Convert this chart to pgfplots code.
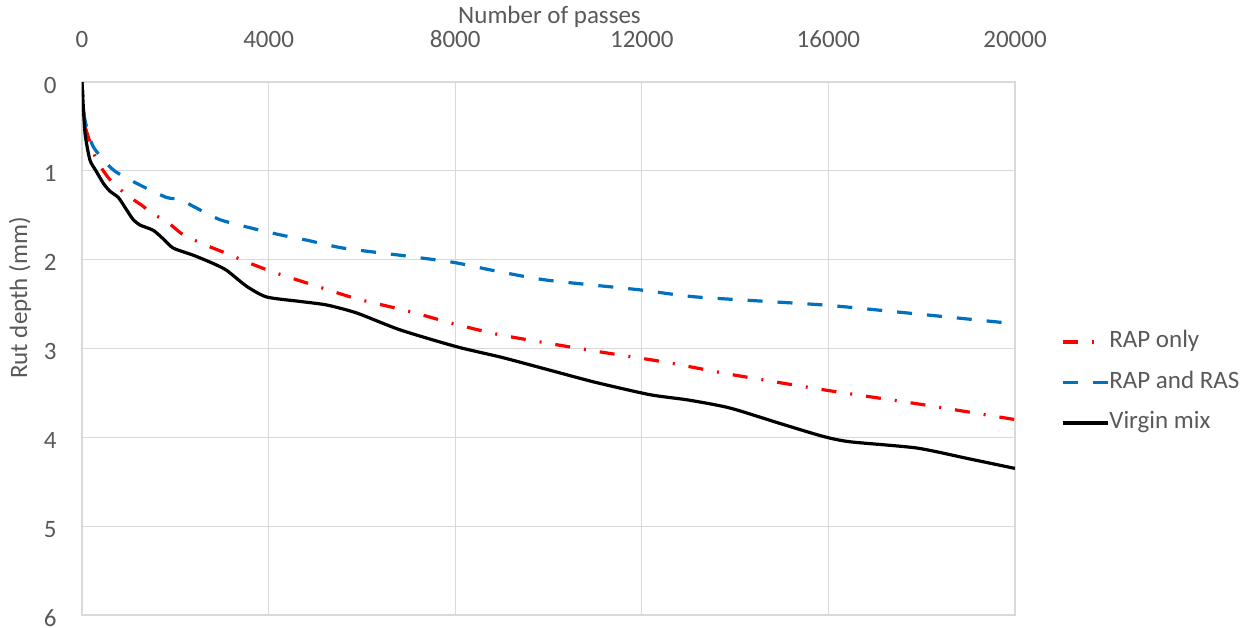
\documentclass[border=0pt]{standalone}
\usepackage{pgfplots}
\pgfplotsset{compat=1.18}
\usepackage{fontspec}
\setmainfont{Carlito}
\definecolor{txt}{HTML}{595959}
\definecolor{grd}{HTML}{D9D9D9}
\definecolor{bl}{HTML}{0070C0}
\begin{document}
\fontsize{25pt}{30pt}\selectfont
\begin{tikzpicture}
\path[use as bounding box] (-82pt,-12pt) rectangle (1173pt,615pt);
\begin{axis}[
  scale only axis, width=933pt, height=533pt,
  xmin=0, xmax=20000, ymin=0, ymax=6,
  y dir=reverse,
  xtick={0,4000,...,20000}, ytick={0,1,...,6},
  scaled x ticks=false,
  xticklabel pos=upper,
  major tick length=0pt,
  grid=major,
  grid style={draw=grd, line width=1.2pt},
  axis line style={draw=grd, line width=1.2pt},
  /pgf/number format/assume math mode=true,
  /pgf/number format/1000 sep={},
  /pgf/number format/fixed,
  ticklabel style={font=\fontsize{25pt}{30pt}\selectfont, text=txt},
  xticklabel style={yshift=26pt},
  yticklabel style={xshift=-17pt, yshift=-3pt},
  legend cell align=left,
  legend style={draw=none, fill=none, at={(axis description cs:1.046,0.539)}, anchor=north west,
    font=\fontsize{25pt}{30pt}\selectfont, text=txt,
    nodes={inner sep=0pt, text height=18pt, text depth=6pt},
    row sep=16.5pt,
    /tikz/every even column/.append style={column sep=5pt}},
  legend image code/.code={\draw[#1] (0pt,0pt) -- (45pt,0pt);},
]
\addplot[red, line width=3.2pt, dash pattern=on 15pt off 14pt on 2pt off 14pt, smooth, tension=0.4] coordinates {
(0,0) (30,0.3) (70,0.5) (136,0.62) (314,0.88) (600,1.10) (957,1.27) (1315,1.40) (1458,1.47) (1815,1.57) (2172,1.72) (2672,1.84) (3100,1.93) (3601,2.04) (4101,2.14) (5102,2.31) (5888,2.44) (7000,2.58) (7960,2.72) (9000,2.85) (10890,3.02) (12461,3.15) (14000,3.30) (15963,3.47) (18000,3.63) (20000,3.80)};
\addlegendentry{RAP only}
\addplot[bl, line width=3.2pt, dash pattern=on 15pt off 15pt, smooth, tension=0.4] coordinates {
(0,0) (20,0.2) (64,0.43) (243,0.73) (672,0.99) (1243,1.16) (1815,1.30) (2100,1.32) (2386,1.40) (2958,1.55) (3672,1.65) (4244,1.72) (4816,1.78) (5602,1.87) (6817,1.95) (7960,2.03) (8800,2.12) (9960,2.23) (11962,2.34) (13177,2.42) (15891,2.51) (17500,2.59) (19786,2.71) (20000,2.72)};
\addlegendentry{RAP and RAS}
\addplot[black, line width=3.2pt, smooth, tension=0.4] coordinates {
(0,0) (30,0.3) (70,0.6) (171,0.88) (300,1.0) (457,1.14) (600,1.23) (779,1.30) (957,1.44) (1100,1.55) (1243,1.61) (1529,1.67) (1750,1.77) (1958,1.87) (2386,1.95) (2800,2.04) (3100,2.12) (3530,2.30) (3958,2.42) (4673,2.47) (5245,2.51) (5888,2.60) (6817,2.79) (8031,2.98) (9000,3.10) (10000,3.24) (11000,3.38) (12176,3.52) (13000,3.58) (13890,3.67) (15000,3.85) (15891,3.99) (16463,4.05) (17892,4.12) (19000,4.24) (20000,4.35)};
\addlegendentry{Virgin mix}
\end{axis}
\node[text=txt, font=\fontsize{25pt}{30pt}\selectfont] at (467.5pt,598pt) {Number of passes};
\node[text=txt, rotate=90, font=\fontsize{25pt}{30pt}\selectfont] at (-62pt,317pt) {Rut depth (mm)};
\end{tikzpicture}
\end{document}
